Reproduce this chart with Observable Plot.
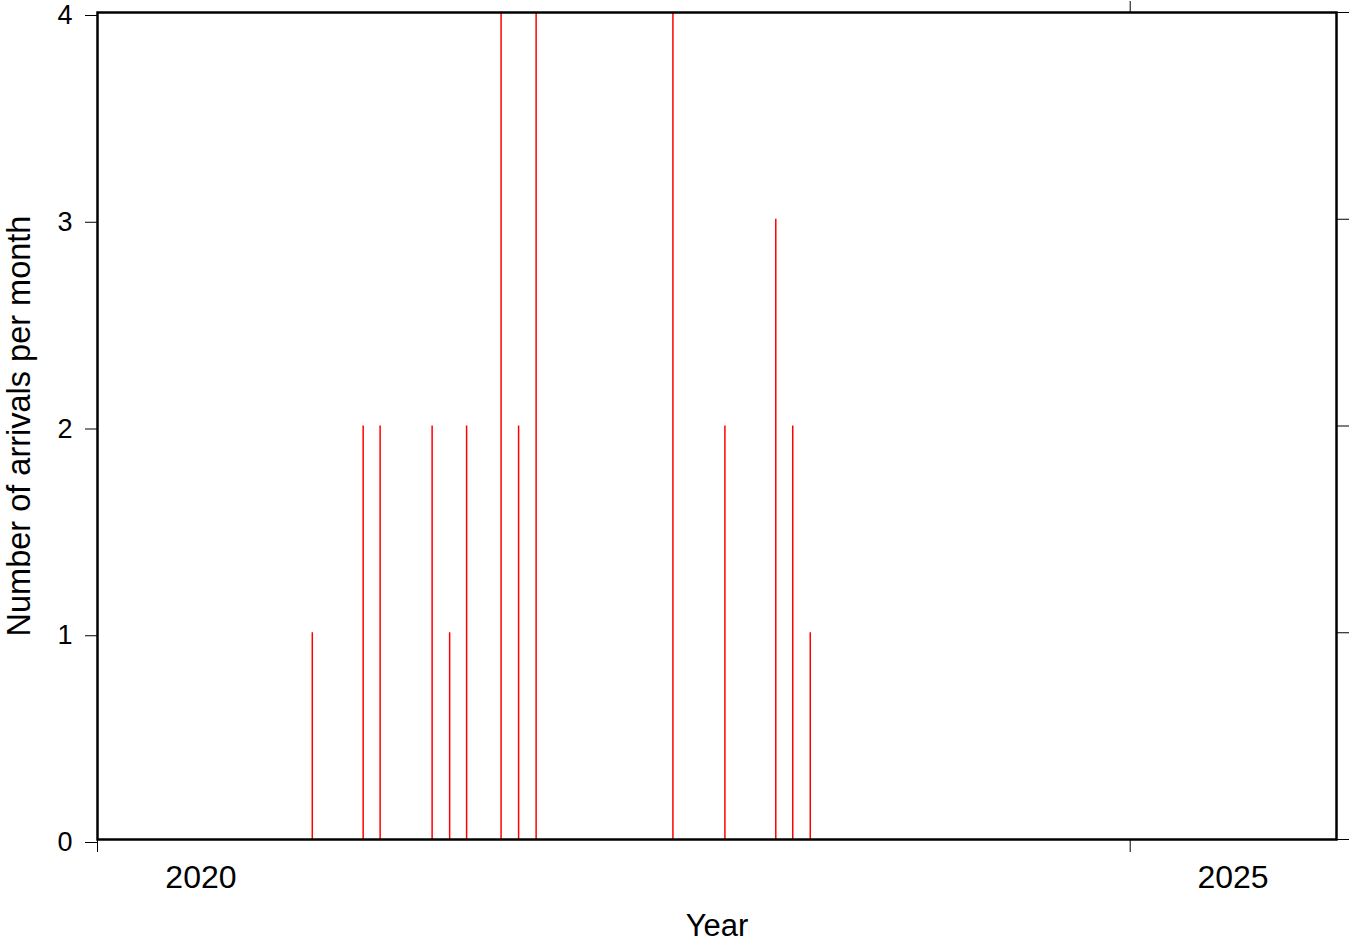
<!DOCTYPE html>
<html><head><meta charset="utf-8">
<script src="https://cdn.jsdelivr.net/npm/d3@7"></script>
<script src="https://cdn.jsdelivr.net/npm/@observablehq/plot@0.6"></script>
<style>body{margin:0;background:#fff} svg{display:block}</style>
</head><body><div id="chart"></div>
<script>
// Monthly arrival counts (month, count)
const months = ["2021-01","2021-04","2021-05","2021-08","2021-09","2021-10","2021-12","2022-01","2022-02","2022-10","2023-01","2023-04","2023-05","2023-06"];
const counts = [1,2,2,2,1,2,4,2,4,4,2,3,2,1];
const yTicks = [0,1,2,3,4];
const xTickYears = [2020, 2025];
const xLabelYears = ["2020", "2025"];
const xDomainYears = [2020, 2026];

const toDate = s => { const [y, m] = s.split("-").map(Number); return new Date(Date.UTC(y, m - 1, 15)); };
const data = months.map((m, i) => ({date: toDate(m), count: counts[i]}));
const yearStart = y => new Date(Date.UTC(y, 0, 1));
const yearMid = y => new Date(Date.UTC(+y, 6, 2));

const plot = Plot.plot({
  width: 1350,
  height: 942,
  marginLeft: 97,
  marginRight: 14,
  marginTop: 12,
  marginBottom: 103,
  style: {fontFamily: "'Liberation Sans', Arial, sans-serif", background: "#fff", color: "#000"},
  x: {type: "utc", domain: xDomainYears.map(yearStart)},
  y: {domain: [0, 4]},
  marks: [
    Plot.ruleX(data, {x: "date", y1: 0, y2: "count", stroke: "#f00", strokeWidth: 1.5}),
    Plot.axisY({anchor: "left", ticks: yTicks, tickSize: 12, tickPadding: 13, fontSize: 27, dy: 3, label: null, tickFormat: d => String(d)}),
    Plot.axisY({anchor: "right", ticks: yTicks, tickSize: 12, tickFormat: () => "", label: null}),
    Plot.axisX({anchor: "top", ticks: [yearStart(2025)], tickSize: 12, tickFormat: () => "", label: null}),
    Plot.axisX({anchor: "bottom", ticks: xTickYears.map(yearStart), tickSize: 13, tickFormat: () => "", label: null}),
    Plot.axisX({anchor: "bottom", ticks: xLabelYears.map(yearMid), tickSize: 0, tickPadding: 26, fontSize: 32, label: null, tickFormat: d => String(d.getUTCFullYear())}),
    Plot.frame({stroke: "#000", strokeWidth: 2.5}),
    Plot.text(["Year"], {frameAnchor: "bottom", dy: 87, fontSize: 31, textAnchor: "middle", lineAnchor: "middle", fill: "#000"}),
    Plot.text(["Number of arrivals per month"], {frameAnchor: "left", dx: -78, rotate: -90, fontSize: 32.5, textAnchor: "middle", lineAnchor: "middle", fill: "#000"})
  ]
});
document.getElementById("chart").appendChild(plot);
</script>
</body></html>
